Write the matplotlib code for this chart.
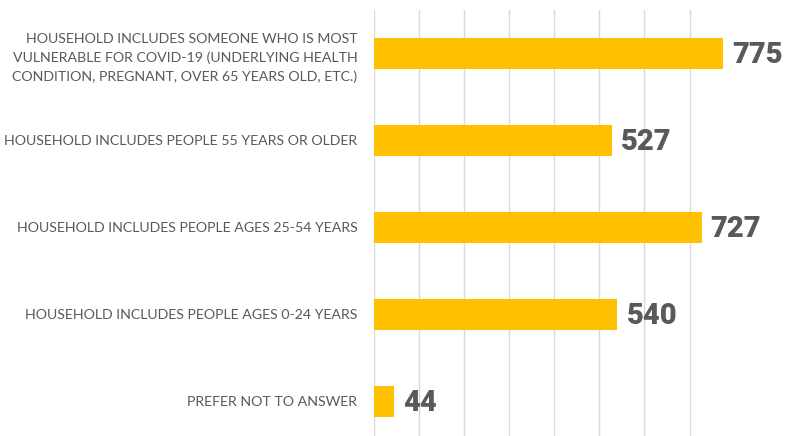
import matplotlib
matplotlib.use("Agg")
import matplotlib.pyplot as plt

categories = [
    "HOUSEHOLD INCLUDES SOMEONE WHO IS MOST\nVULNERABLE FOR COVID-19 (UNDERLYING HEALTH\nCONDITION, PREGNANT, OVER 65 YEARS OLD, ETC.)",
    "HOUSEHOLD INCLUDES PEOPLE 55 YEARS OR OLDER",
    "HOUSEHOLD INCLUDES PEOPLE AGES 25-54 YEARS",
    "HOUSEHOLD INCLUDES PEOPLE AGES 0-24 YEARS",
    "PREFER NOT TO ANSWER",
]
values = [775, 527, 727, 540, 44]
grid_ticks = [0, 100, 200, 300, 400, 500, 600, 700]

fig = plt.figure(figsize=(7.86, 4.36), dpi=100)
ax = fig.add_axes([0.4758, -0.0206, 0.4588, 0.9977])

ypos = list(range(len(categories)))
ax.barh(ypos, values, height=0.36, color="#FFC000", zorder=3)
ax.set_xlim(0, 800)
ax.set_ylim(len(categories) - 0.5, -0.5)
ax.set_xticks(grid_ticks)
ax.set_xticklabels([])
ax.tick_params(axis="both", length=0)
ax.grid(axis="x", color="#d9d9d9", linewidth=1.0, zorder=0)
for s in ax.spines.values():
    s.set_visible(False)

ax.set_yticks(ypos)
ax.set_yticklabels(categories, fontsize=10.2, color="#595959", family=["Lato", "DejaVu Sans"],
                   multialignment="right", linespacing=1.65)
ax.tick_params(axis="y", pad=12)

for y, v in zip(ypos, values):
    ax.text(v + 20, y + 0.02, str(v), va="center", ha="left", fontsize=21, fontweight=900,
            color="#595959", family=["Roboto", "DejaVu Sans"], clip_on=False, zorder=4)

fig.savefig("out.png", dpi=100)
